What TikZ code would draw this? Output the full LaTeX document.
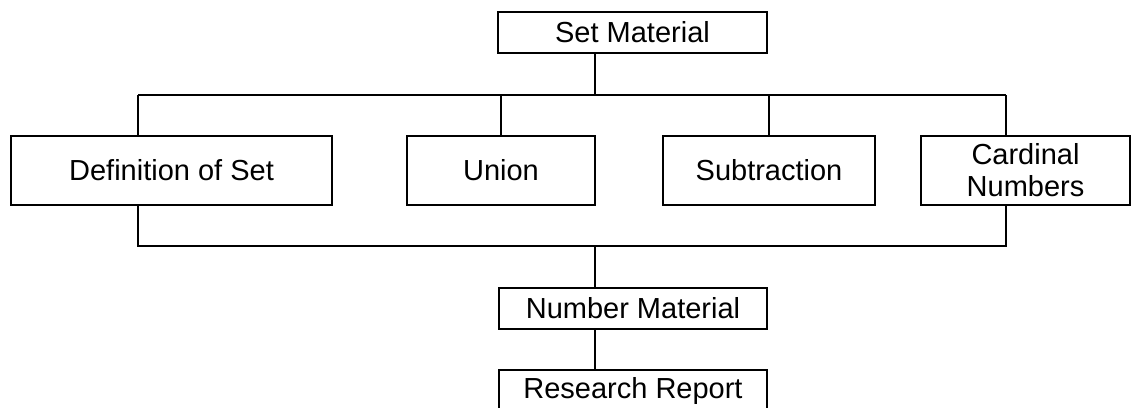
\documentclass[tikz,border=0pt]{standalone}
\usepackage{fontspec}
\setmainfont{Liberation Sans}
\tikzset{every picture/.style={line width=0.9pt}}
\tikzset{
  topicbox/.style={draw, inner sep=0pt, align=center, font=\fontsize{21.75}{24}\selectfont},
}

\begin{document}
\begin{tikzpicture}[x=0.75pt,y=0.75pt,yscale=-1,xscale=1]
\useasboundingbox (0,0) rectangle (1131,407);

% Text Node
\node (setmat) [topicbox, minimum width=201.75pt, minimum height=30.75pt] at (632.5,32.5) {Set Material};
% Text Node
\node (defset) [topicbox, minimum width=240.75pt, minimum height=51.75pt] at (171.5,170.5) {Definition of Set};
% Text Node
\node (union) [topicbox, minimum width=141pt, minimum height=51.75pt] at (501,170.5) {Union};
% Text Node
\node (subtr) [topicbox, minimum width=159pt, minimum height=51.75pt] at (769,170.5) {Subtraction};
% Text Node
\node (cardnum) [topicbox, minimum width=156.75pt, minimum height=51.75pt] at (1025.5,170.5) {Cardinal\\Numbers};
% Text Node
\node (nummat) [topicbox, minimum width=201pt, minimum height=30.75pt] at (633,308.5) {Number Material};
% Text Node
\node (report) [topicbox, minimum width=201pt, minimum height=30.75pt] at (633,390.5) {Research Report};

% bus lines
\coordinate (trunktop) at (595,95);
\coordinate (trunkbot) at (595,246);
\coordinate (topL) at (138,95);
\coordinate (topR) at (1006,95);
\coordinate (botL) at (138,246);
\coordinate (botR) at (1006,246);

%Straight Lines
\draw (setmat.south -| trunktop) -- (trunktop);
\draw (topL) -- (topR);
\draw (topL) -- (topL |- defset.north);
\draw (union.north |- topL) -- (union.north);
\draw (subtr.north |- topL) -- (subtr.north);
\draw (topR) -- (topR |- cardnum.north);
%Straight Lines
\draw (botL |- defset.south) -- (botL) -- (botR) -- (botR |- cardnum.south);
\draw (trunkbot) -- (trunkbot |- nummat.north);
\draw (nummat.south -| trunkbot) -- (trunkbot |- report.north);
\end{tikzpicture}
\end{document}
